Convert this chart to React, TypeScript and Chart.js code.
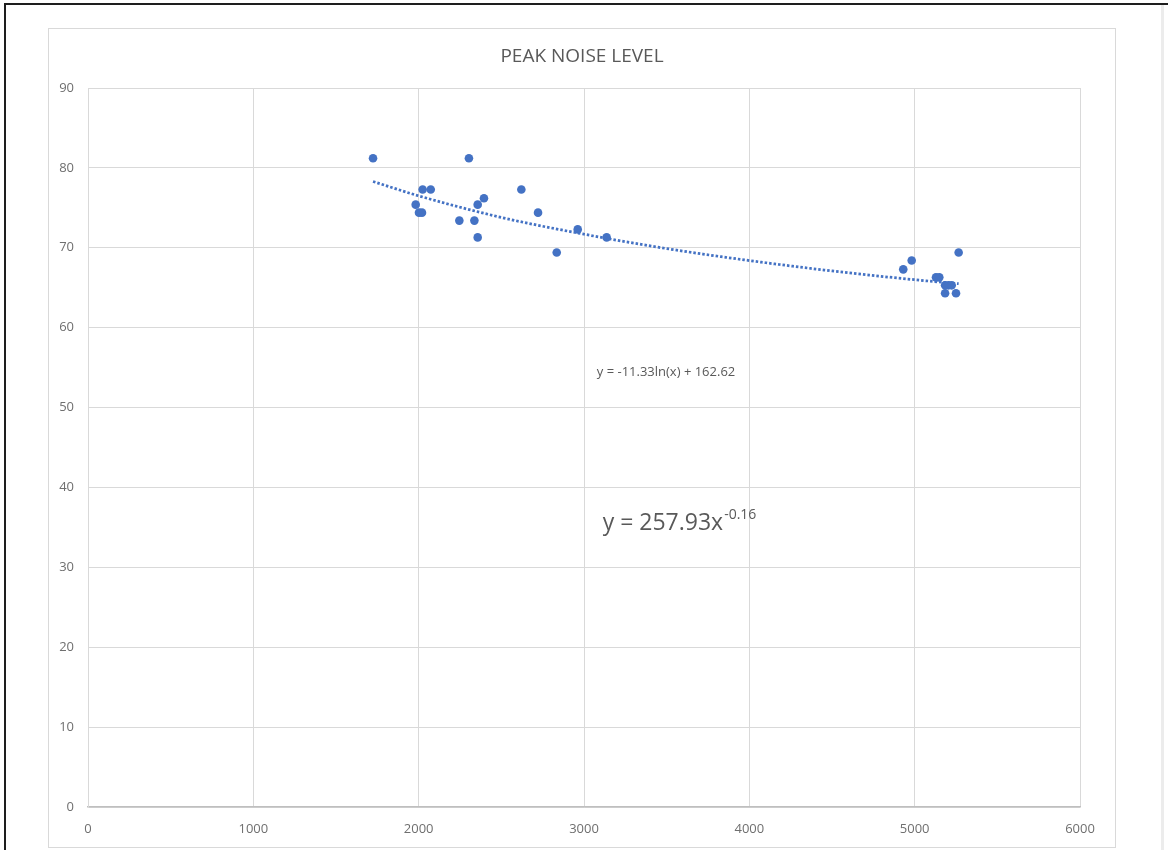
import React, { useEffect, useRef } from "react";
import { Chart, registerables } from "chart.js";

Chart.register(...registerables);

const chartTitle = "PEAK NOISE LEVEL";

const xValues = [1724, 2304, 2024, 2073, 1982, 2002, 2020, 2246, 2337, 2357, 2395, 2357, 2621, 2722, 2835, 2962, 3137, 5266, 4982, 4931, 5129, 5149, 5184, 5204, 5224, 5184, 5250];
const yValues = [81.2, 81.2, 77.3, 77.3, 75.4, 74.4, 74.4, 73.4, 73.4, 75.4, 76.2, 71.3, 77.3, 74.4, 69.4, 72.3, 71.3, 69.4, 68.4, 67.3, 66.3, 66.3, 65.3, 65.3, 65.3, 64.3, 64.3];

const trendX = [1724, 2000, 2500, 3000, 3500, 4000, 4500, 5000, 5266];
const trendY = [78.3, 76.5, 73.8, 71.7, 69.9, 68.4, 67.1, 66.0, 65.5];

const xTickValues = [0, 1000, 2000, 3000, 4000, 5000, 6000];
const yTickValues = [0, 10, 20, 30, 40, 50, 60, 70, 80, 90];

const logEquation = "y = -11.33ln(x) + 162.62";
const powerEquationBase = "y = 257.93x";
const powerEquationExp = "-0.16";

const FONT = "'Open Sans', 'DejaVu Sans', sans-serif";
const TEXT_COLOR = "#595959";
const BLUE = "#4472C4";

const textPlugin = {
  id: "texts",
  afterDatasetsDraw(chart: any) {
    const { ctx, scales } = chart;
    const xs = scales.x;
    const ys = scales.y;
    ctx.save();
    ctx.fillStyle = TEXT_COLOR;
    // title centered on the canvas
    ctx.font = `19px ${FONT}`;
    ctx.textAlign = "center";
    ctx.textBaseline = "middle";
    ctx.fillText(chartTitle, chart.width / 2, 28);
    // log equation (small), centered
    ctx.font = `13px ${FONT}`;
    ctx.fillText(logEquation, xs.getPixelForValue(3496), ys.getPixelForValue(54.45));
    // power equation (large) with superscript
    const px = xs.getPixelForValue(3113);
    const py = ys.getPixelForValue(34.7);
    ctx.textAlign = "left";
    ctx.textBaseline = "alphabetic";
    ctx.font = `23px ${FONT}`;
    ctx.fillText(powerEquationBase, px, py);
    const w = ctx.measureText(powerEquationBase).width;
    ctx.font = `14px ${FONT}`;
    ctx.fillText(powerEquationExp, px + w + 1, py - 11);
    ctx.restore();
  },
};

export default function App() {
  const canvasRef = useRef<HTMLCanvasElement | null>(null);

  useEffect(() => {
    if (!canvasRef.current) return;
    const chart = new Chart(canvasRef.current, {
      type: "scatter",
      data: {
        datasets: [
          {
            label: "Trend",
            data: trendX.map((x, i) => ({ x, y: trendY[i] })),
            showLine: true,
            borderColor: BLUE,
            borderWidth: 2.75,
            borderDash: [2.5, 2],
            borderCapStyle: "butt",
            cubicInterpolationMode: "monotone",
            pointRadius: 0,
            fill: false,
          } as any,
          {
            label: "Peak noise level",
            data: xValues.map((x, i) => ({ x, y: yValues[i] })),
            backgroundColor: BLUE,
            borderColor: BLUE,
            pointRadius: 4.3,
            borderWidth: 0,
          },
        ],
      },
      options: {
        animation: false,
        responsive: false,
        devicePixelRatio: 1,
        layout: { padding: { left: 0, right: 35, top: 59, bottom: 0 } },
        plugins: {
          legend: { display: false },
          tooltip: { enabled: false },
          title: { display: false },
        },
        scales: {
          x: {
            type: "linear",
            min: 0,
            max: 6000,
            afterFit: (s: any) => {
              s.height = 40;
            },
            afterBuildTicks: (s: any) => {
              s.ticks = xTickValues.map((v) => ({ value: v }));
            },
            grid: { color: "#d9d9d9", lineWidth: 1, drawTicks: false },
            border: { color: "#bfbfbf", width: 1.5 },
            ticks: {
              color: "#6f6f6f",
              font: { family: FONT, size: 13 },
              padding: 14,
              maxRotation: 0,
              callback: (v: any) => String(v),
            },
          },
          y: {
            type: "linear",
            min: 0,
            max: 90,
            afterFit: (s: any) => {
              s.width = 39;
            },
            afterBuildTicks: (s: any) => {
              s.ticks = yTickValues.map((v) => ({ value: v }));
            },
            grid: { color: "#d9d9d9", lineWidth: 1, drawTicks: false },
            border: { color: "#d9d9d9", width: 1 },
            ticks: {
              color: "#6f6f6f",
              font: { family: FONT, size: 13 },
              padding: 14,
              callback: (v: any) => String(v),
            },
          },
        },
      } as any,
      plugins: [textPlugin],
    });
    return () => chart.destroy();
  }, []);

  return (
    <div
      style={{
        position: "fixed",
        left: 0,
        top: 0,
        width: 1168,
        height: 850,
        background: "#ffffff",
        overflow: "hidden",
      }}
    >
      <div
        style={{
          position: "absolute",
          left: 4,
          top: 3,
          width: 1200,
          height: 900,
          borderTop: "2px solid #1e1e1e",
          borderLeft: "2px solid #1e1e1e",
        }}
      />
      <div
        style={{
          position: "absolute",
          left: 1161,
          top: 5,
          width: 3,
          height: 850,
          background: "#ececec",
        }}
      />
      <div
        style={{
          position: "absolute",
          left: 48,
          top: 28,
          width: 1068,
          height: 820,
          boxSizing: "border-box",
          border: "1px solid #d9d9d9",
          background: "#ffffff",
        }}
      >
        <canvas ref={canvasRef} width={1066} height={818} style={{ width: 1066, height: 818, display: "block" }} />
      </div>
    </div>
  );
}
